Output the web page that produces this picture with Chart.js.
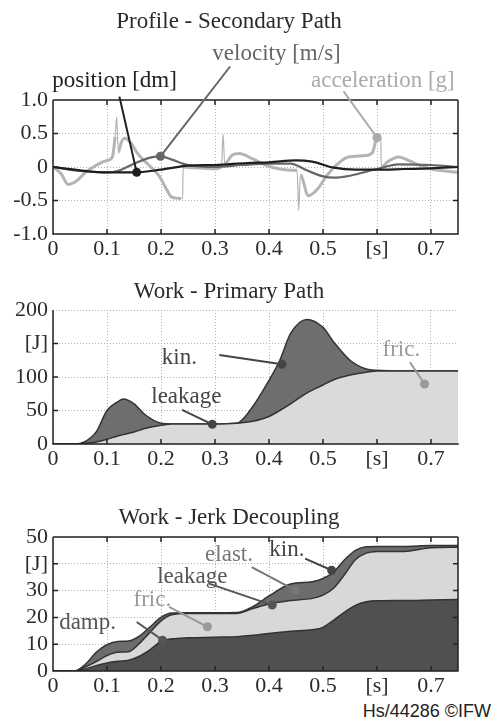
<!DOCTYPE html>
<html lang="en">
<head>
<meta charset="UTF-8">
<title>Profile - Secondary Path / Work</title>
<script src="https://cdn.jsdelivr.net/npm/chart.js"></script>
<style>
  body { margin: 0; background: #fff; }
  .wrap { position: relative; width: 492px; height: 722px; overflow: hidden; }
  .box { position: absolute; left: 0; width: 492px; }
  #foot { position: absolute; right: 1px; top: 701px; font: 18px "Liberation Sans", Arial, sans-serif; color: #222; }
</style>
</head>
<body>
<div class="wrap">
  <div class="box" style="top:0"><canvas id="c1" width="492" height="260"></canvas></div>
  <div class="box" style="top:262px"><canvas id="c2" width="492" height="208"></canvas></div>
  <div class="box" style="top:470px"><canvas id="c3" width="492" height="227"></canvas></div>
  <div id="foot">Hs/44286 ©IFW</div>
</div>

<script>
// --- profile, secondary path (time in s)
const posT = [0, 0.05, 0.1, 0.15, 0.2, 0.25, 0.3, 0.36, 0.4, 0.45, 0.48, 0.52, 0.56, 0.6, 0.65, 0.7, 0.75];
const posV = [0, -0.05, -0.08, -0.08, -0.04, 0.02, 0.03, 0.06, 0.07, 0.1, 0.08, -0.01, -0.04, -0.04, -0.03, -0.02, 0];

const velT = [0, 0.05, 0.1, 0.12, 0.15, 0.18, 0.2, 0.22, 0.25, 0.3, 0.35, 0.4, 0.44, 0.47, 0.5, 0.52, 0.55, 0.6, 0.64, 0.7, 0.75];
const velV = [0, -0.06, -0.08, -0.06, 0.05, 0.14, 0.16, 0.11, 0.03, 0, 0.03, 0.05, 0.05, -0.05, -0.14, -0.16, -0.13, -0.03, 0.04, 0.03, 0];

const accT = [0, 0.015, 0.028, 0.045, 0.06, 0.075, 0.09, 0.102, 0.11, 0.115, 0.118, 0.121, 0.126, 0.133, 0.145, 0.155, 0.168, 0.18, 0.197, 0.21, 0.22, 0.237,
  0.24, 0.241, 0.26, 0.28, 0.3, 0.312, 0.315, 0.318, 0.332, 0.345, 0.37, 0.393, 0.42, 0.445, 0.452, 0.455, 0.458, 0.473, 0.49, 0.507, 0.525, 0.547,
  0.578, 0.592, 0.6, 0.607, 0.608, 0.62, 0.64, 0.66, 0.68, 0.7, 0.75];
const accV = [0, -0.1, -0.26, -0.2, -0.08, 0, 0.07, 0.1, 0.15, 0.45, 0.75, 0.22, 0.36, 0.43, 0.35, 0.22, 0.1, 0.01, -0.14, -0.33, -0.45, -0.47,
  -0.47, 0, -0.01, -0.02, -0.03, 0, 0.49, 0.05, 0.18, 0.2, 0.12, 0.03, -0.03, -0.05, -0.05, -0.65, -0.12, -0.43, -0.33, -0.13, 0.03, 0.15,
  0.17, 0.22, 0.44, 0.4, 0, 0.08, 0.15, 0.09, 0.02, -0.03, -0.08];

// --- work, primary path [J]
const primT = [0, 0.04, 0.06, 0.08, 0.1, 0.12, 0.13, 0.15, 0.17, 0.2, 0.22, 0.25, 0.3, 0.34, 0.37, 0.4, 0.42, 0.44, 0.47, 0.5, 0.52, 0.55, 0.58, 0.6, 0.65, 0.7, 0.75];
const primFric = [0, 0, 1, 3, 7, 12, 14, 18, 23, 28, 30, 30, 30, 31, 34, 41, 50, 60, 76, 88, 96, 103, 107, 109, 109, 109, 109];
const primTotal = [0, 0, 4, 18, 50, 63, 67, 60, 44, 31, 30, 30, 30, 31, 56, 95, 125, 165, 186, 174, 152, 125, 112, 110, 109, 109, 109];

// --- work, jerk decoupling [J]
const jerkT = [0, 0.04, 0.06, 0.08, 0.1, 0.12, 0.14, 0.16, 0.18, 0.2, 0.22, 0.25, 0.3, 0.34, 0.37, 0.4, 0.44, 0.48, 0.5, 0.52, 0.54, 0.56, 0.58, 0.6, 0.65, 0.7, 0.75];
const jerkDamp = [0, 0, 0.8, 2, 3, 3.6, 4, 5.5, 8, 11, 12, 12.4, 12.6, 12.8, 13.3, 14, 14.8, 15.4, 16.3, 19, 22, 24.5, 25.8, 26.2, 26.3, 26.5, 26.7];
const jerkLeak = [0, 0, 1.5, 3.5, 5.8, 7, 7.2, 10.3, 14.5, 18.7, 21, 21.5, 21.5, 21.5, 23.3, 25, 26.3, 27.1, 28.3, 31, 36, 41.5, 44, 44.6, 44.6, 46, 46.2];
const jerkTotal = [0, 0, 2.5, 7, 9.8, 11, 11.2, 13, 16.5, 20, 21.6, 21.7, 21.7, 21.8, 24, 28, 32.5, 33.3, 34.5, 37, 41.5, 45, 46.4, 46.5, 46.5, 46.8, 46.8];

const FONT = '"Liberation Serif", "Times New Roman", serif';
const TXT = '#2b2b2b';
Chart.defaults.font.family = FONT;
Chart.defaults.font.size = 22;
Chart.defaults.color = TXT;

const pts = (xs, ys) => xs.map((x, i) => ({ x: x, y: ys[i] }));

// box border with inward tick marks
const framePlugin = {
  id: 'frame',
  afterDatasetsDraw(chart, args, opts) {
    const { ctx, chartArea: a } = chart;
    const xs = chart.scales.x, ys = chart.scales.y;
    const s = opts.sides || [];
    ctx.save();
    ctx.strokeStyle = '#222';
    ctx.lineWidth = 1.5;
    ctx.beginPath();
    if (s.includes('left')) { ctx.moveTo(a.left, a.top); ctx.lineTo(a.left, a.bottom); }
    if (s.includes('right')) { ctx.moveTo(a.right, a.top); ctx.lineTo(a.right, a.bottom); }
    if (s.includes('top')) { ctx.moveTo(a.left, a.top); ctx.lineTo(a.right, a.top); }
    if (s.includes('bottom')) { ctx.moveTo(a.left - 0.75, a.bottom); ctx.lineTo(a.right + 0.75, a.bottom); }
    xs.ticks.forEach(t => {
      const p = xs.getPixelForValue(t.value);
      if (p <= a.left + 1 || p >= a.right - 1) return;
      if (s.includes('bottom')) { ctx.moveTo(p, a.bottom); ctx.lineTo(p, a.bottom - 5); }
      if (s.includes('top')) { ctx.moveTo(p, a.top); ctx.lineTo(p, a.top + 5); }
    });
    ys.ticks.forEach(t => {
      const p = ys.getPixelForValue(t.value);
      if (p <= a.top + 1 || p >= a.bottom - 1) return;
      if (s.includes('left')) { ctx.moveTo(a.left, p); ctx.lineTo(a.left + 5, p); }
      if (s.includes('right')) { ctx.moveTo(a.right, p); ctx.lineTo(a.right - 5, p); }
    });
    ctx.stroke();
    ctx.restore();
  }
};

// labels with leader line and dot, placed in data units
const notesPlugin = {
  id: 'notes',
  afterDraw(chart, args, opts) {
    const { ctx } = chart;
    const xs = chart.scales.x, ys = chart.scales.y;
    const px = p => [xs.getPixelForValue(p[0]), ys.getPixelForValue(p[1])];
    ctx.save();
    (opts.items || []).forEach(n => {
      const [x0, y0] = px(n.from), [x1, y1] = px(n.to), [tx, ty] = px(n.at);
      ctx.strokeStyle = n.color;
      ctx.fillStyle = n.color;
      ctx.lineWidth = 2;
      ctx.beginPath();
      ctx.moveTo(x0, y0);
      ctx.lineTo(x1, y1);
      ctx.stroke();
      ctx.beginPath();
      ctx.arc(x1, y1, 4.5, 0, Math.PI * 2);
      ctx.fill();
      ctx.font = '23px ' + FONT;
      ctx.textAlign = 'center';
      ctx.textBaseline = 'middle';
      ctx.fillText(n.text, tx, ty);
    });
    ctx.restore();
  }
};

function xTickLabel(v) {
  if (Math.abs(v - 0.6) < 1e-6) return '[s]';
  if (Math.abs(v * 10 - Math.round(v * 10)) > 1e-6) return '';
  return v === 0 ? '0' : v.toFixed(1);
}

function makeOptions(cfg) {
  return {
    responsive: false,
    animation: false,
    layout: { padding: { top: cfg.padTop, right: 34, left: 0, bottom: 0 } },
    scales: {
      x: {
        type: 'linear', min: 0, max: 0.75,
        afterFit: s => { s.height = 26; },
        ticks: { stepSize: 0.1, includeBounds: false, autoSkip: false, maxRotation: 0, padding: 2, callback: xTickLabel },
        grid: { color: '#b0b0b0', lineWidth: 1, drawTicks: false },
        border: { display: false, dash: [1, 2] }
      },
      y: {
        min: cfg.ymin, max: cfg.ymax,
        afterFit: s => { s.width = 53; },
        ticks: { stepSize: cfg.ystep, autoSkip: false, padding: 5, callback: cfg.yLabel },
        grid: { color: '#b0b0b0', lineWidth: 1, drawTicks: false },
        border: { display: false, dash: [1, 2] }
      }
    },
    plugins: {
      legend: { display: false },
      tooltip: { enabled: false },
      title: {
        display: true, text: cfg.title, color: TXT,
        font: { size: 23, weight: 'normal', family: FONT },
        padding: { top: 0, bottom: cfg.titleGap }
      },
      frame: { sides: cfg.sides },
      notes: { items: cfg.notes }
    }
  };
}

const lineSet = (xs, ys, color, w) => ({
  data: pts(xs, ys), borderColor: color, borderWidth: w, pointRadius: 0,
  cubicInterpolationMode: 'monotone', fill: false,
  segment: { borderWidth: c => (c.p1.parsed.x - c.p0.parsed.x) < 0.0035 ? 1.2 : w }
});

const areaSet = (xs, ys, fillColor) => ({
  data: pts(xs, ys), borderColor: '#333', borderWidth: 1.5, pointRadius: 0,
  cubicInterpolationMode: 'monotone', fill: 'origin', backgroundColor: fillColor
});

new Chart(document.getElementById('c1'), {
  type: 'line',
  data: {
    datasets: [
      lineSet(posT, posV, '#1e1e1e', 2.2),
      lineSet(velT, velV, '#666', 2.2),
      lineSet(accT, accV, '#b4b4b4', 3)
    ]
  },
  options: makeOptions({
    title: 'Profile - Secondary Path', padTop: 8, titleGap: 64.4,
    ymin: -1, ymax: 1, ystep: 0.5,
    yLabel: v => v === 0 ? '0' : v.toFixed(1),
    sides: ['left', 'right', 'top', 'bottom'],
    notes: [
      { text: 'position [dm]', color: '#1e1e1e', at: [0.114, 1.28], from: [0.123, 1.05], to: [0.155, -0.08] },
      { text: 'velocity [m/s]', color: '#666', at: [0.414, 1.68], from: [0.328, 1.5], to: [0.199, 0.16] },
      { text: 'acceleration [g]', color: '#aaa', at: [0.611, 1.28], from: [0.538, 1.13], to: [0.6, 0.44] }
    ]
  }),
  plugins: [framePlugin, notesPlugin]
});

new Chart(document.getElementById('c2'), {
  type: 'line',
  data: {
    datasets: [
      areaSet(primT, primFric, '#dadada'),
      areaSet(primT, primTotal, '#6e6e6e')
    ]
  },
  options: makeOptions({
    title: 'Work - Primary Path', padTop: 16, titleGap: 4.4,
    ymin: 0, ymax: 200, ystep: 50,
    yLabel: v => v === 150 ? '[J]' : String(v),
    sides: ['left', 'bottom'],
    notes: [
      { text: 'kin.', color: '#444', at: [0.234, 128], from: [0.308, 133], to: [0.424, 119] },
      { text: 'leakage', color: '#444', at: [0.247, 70], from: [0.239, 51], to: [0.295, 29.4] },
      { text: 'fric.', color: '#999', at: [0.645, 140], from: [0.661, 122], to: [0.688, 89.5] }
    ]
  }),
  plugins: [framePlugin, notesPlugin]
});

new Chart(document.getElementById('c3'), {
  type: 'line',
  data: {
    datasets: [
      areaSet(jerkT, jerkDamp, '#505050'),
      areaSet(jerkT, jerkLeak, '#d8d8d8'),
      areaSet(jerkT, jerkTotal, '#6c6c6c')
    ]
  },
  options: makeOptions({
    title: 'Work - Jerk Decoupling', padTop: 34, titleGap: 5.4,
    ymin: 0, ymax: 50, ystep: 10,
    yLabel: v => v === 40 ? '[J]' : String(v),
    sides: ['left', 'right', 'top', 'bottom'],
    notes: [
      { text: 'damp.', color: '#555', at: [0.064, 17.9], from: [0.155, 18.3], to: [0.203, 11.5] },
      { text: 'fric.', color: '#999', at: [0.184, 26.4], from: [0.215, 23.9], to: [0.286, 16.5] },
      { text: 'leakage', color: '#555', at: [0.258, 35], from: [0.289, 32.6], to: [0.406, 24.6] },
      { text: 'elast.', color: '#777', at: [0.326, 43.2], from: [0.368, 38.8], to: [0.449, 30.1] },
      { text: 'kin.', color: '#444', at: [0.433, 45], from: [0.467, 41.9], to: [0.516, 37.6] }
    ]
  }),
  plugins: [framePlugin, notesPlugin]
});
</script>
</body>
</html>
